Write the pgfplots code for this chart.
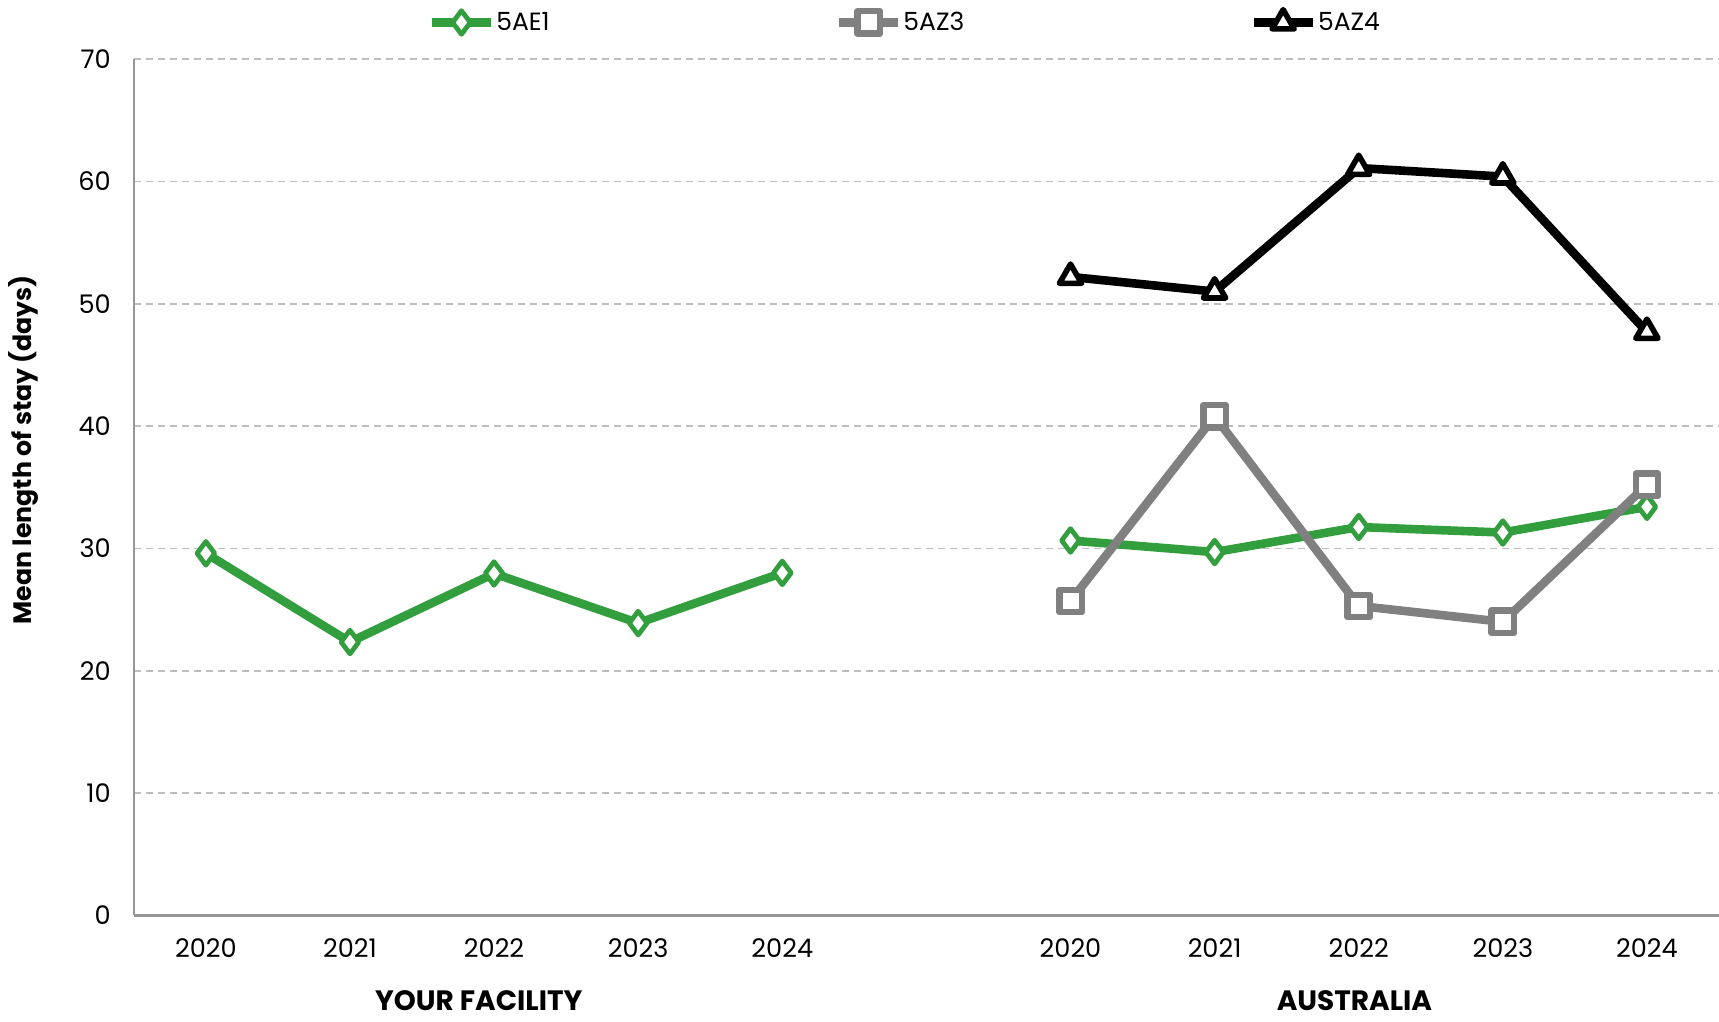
\documentclass[border=0pt]{standalone}
\usepackage{pgfplots}
\pgfplotsset{compat=1.18}
\usepackage{fontspec}
\setmainfont{Poppins}
\definecolor{lgreen}{RGB}{50,158,62}
\definecolor{lgray}{RGB}{128,128,128}
\definecolor{gridc}{RGB}{190,190,190}
\definecolor{axc}{RGB}{150,150,150}
\begin{document}
\begin{tikzpicture}
\begin{axis}[
  scale only axis, width=792.6pt, height=428.1pt,
  xmin=-0.5, xmax=10.5, ymin=0, ymax=70,
  clip mode=individual,
  axis lines*=left,
  axis line style={axc, line width=1.2pt},
  xtick={0,1,2,3,4,6,7,8,9,10},
  xticklabels={2020,2021,2022,2023,2024,2020,2021,2022,2023,2024},
  ytick={0,10,...,70},
  major tick length=0pt,
  ymajorgrids,
  grid style={gridc, dash pattern=on 3.5pt off 2.5pt, line width=0.8pt},
  tick label style={font=\fontsize{12.8}{15}\selectfont},
  /pgf/number format/assume math mode=true,
  xticklabel style={yshift=-8pt},
  yticklabel style={xshift=-8pt},
  ylabel={Mean length of stay (days)},
  ylabel style={font=\fontsize{12.6}{15}\selectfont\bfseries, at={(axis description cs:-0.0693,0.544)}, anchor=center},
  unbounded coords=jump,
  legend columns=3,
  legend style={draw=none, fill=none, at={(0.486,1)}, anchor=center, yshift=18.6pt,
    font=\fontsize{12.5}{15}\selectfont, inner sep=0pt,
    nodes={inner sep=0.5pt},
    /tikz/every even column/.append style={column sep=142pt},
    /tikz/every odd column/.append style={column sep=0pt}},
  legend image code/.code={\draw[mark repeat=2,mark phase=2,#1] plot coordinates {(0cm,0cm) (0.52cm,0cm) (1.04cm,0cm)};},
  line join=round,
]
\addplot[lgreen, line width=4.3pt, mark=diamond*, mark size=5.9pt,
  mark options={fill=white, draw=lgreen, line width=2.4pt, solid}]
  coordinates {(0,29.6)(1,22.35)(2,27.95)(3,23.9)(4,28.0)(5,nan)(6,30.65)(7,29.7)(8,31.75)(9,31.3)(10,33.4)};
\addlegendentry{5AE1}
\addplot[lgray, line width=4.3pt, mark=square*, mark size=5.6pt,
  mark options={fill=white, draw=lgray, line width=3.2pt, solid}]
  coordinates {(6,25.7)(7,40.8)(8,25.3)(9,24.0)(10,35.2)};
\addlegendentry{5AZ3}
\addplot[black, line width=4.3pt, mark=triangle*, mark size=6.4pt,
  mark options={fill=white, draw=black, line width=2.8pt, solid}]
  coordinates {(6,52.2)(7,51.0)(8,61.1)(9,60.4)(10,47.7)};
\addlegendentry{5AZ4}
\node[font=\fontsize{14}{16}\selectfont\bfseries] at (axis cs:1.894,0) [yshift=-42.8pt] {YOUR FACILITY};
\node[font=\fontsize{14}{16}\selectfont\bfseries] at (axis cs:7.97,0) [yshift=-42.8pt] {AUSTRALIA};
\end{axis}
\pgfresetboundingbox
\path ([xshift=-66.9pt,yshift=-53.3pt]current axis.south west) rectangle ([yshift=29.6pt]current axis.north east);
\end{tikzpicture}
\end{document}
